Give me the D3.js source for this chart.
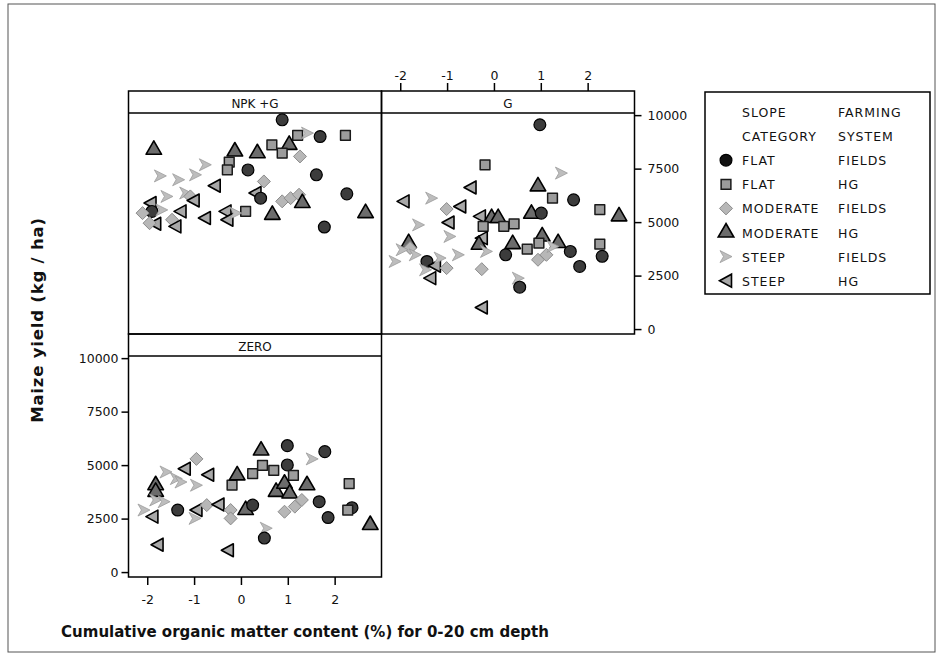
<!DOCTYPE html>
<html>
<head>
<meta charset="utf-8">
<script src="https://cdn.jsdelivr.net/npm/d3@7"></script>
<style>
  body { margin: 0; background: #fff; }
  text { font-family: "DejaVu Sans", Verdana, sans-serif; fill: #111; }
</style>
</head>
<body>
<svg id="chart" width="943" height="659"></svg>
<script>
// slope category / farming system, in legend order
var categories = [
  ["FLAT", "FIELDS"],
  ["FLAT", "HG"],
  ["MODERATE", "FIELDS"],
  ["MODERATE", "HG"],
  ["STEEP", "FIELDS"],
  ["STEEP", "HG"]
];
var panelNames = ["NPK +G", "G", "ZERO"];
var xTicks = [-2, -1, 0, 1, 2];
var yTicks = [0, 2500, 5000, 7500, 10000];

// [organic matter, yield, category index]
var npkPoints = [
  [0.88, 9780, 0], [1.21, 9050, 1], [1.42, 9160, 4], [1.69, 9000, 0], [2.23, 9050, 1],
  [0.66, 8610, 1], [-1.86, 8380, 3], [-0.13, 8300, 3], [0.35, 8220, 3], [1.03, 8610, 3],
  [0.88, 8220, 1], [1.26, 8070, 2], [-0.25, 7800, 1], [-0.29, 7440, 1], [0.15, 7440, 0],
  [1.61, 7210, 0], [0.49, 6900, 2], [2.26, 6320, 0], [0.31, 6360, 5], [0.42, 6120, 0],
  [0.88, 5970, 2], [1.06, 6120, 2], [1.24, 6280, 2], [1.31, 5890, 3], [0.10, 5500, 1],
  [0.67, 5340, 3], [2.66, 5420, 3], [1.78, 4770, 0], [-1.72, 7160, 4], [-1.33, 6980, 4],
  [-0.97, 7210, 4], [-0.76, 7680, 4], [-0.56, 6700, 5], [-1.18, 6360, 4], [-1.08, 6200, 2],
  [-1.01, 6010, 5], [-1.58, 6200, 4], [-1.93, 5890, 5], [-1.90, 5500, 0], [-2.10, 5420, 2],
  [-1.69, 5570, 4], [-1.29, 5500, 5], [-1.83, 4920, 5], [-1.95, 4950, 2], [-1.47, 5110, 2],
  [-1.40, 4800, 5], [-0.77, 5190, 5], [-0.33, 5500, 5], [-0.29, 5110, 5], [-0.11, 5420, 4]
];

var gPoints = [
  [0.98, 9550, 0], [-0.19, 7680, 1], [1.44, 7290, 4], [-0.50, 6620, 5], [0.94, 6670, 3],
  [1.25, 6120, 1], [1.70, 6040, 0], [-1.93, 5970, 5], [-1.33, 6120, 4], [-0.72, 5730, 5],
  [-1.01, 5610, 2], [2.26, 5580, 1], [2.67, 5270, 3], [0.80, 5390, 3], [1.01, 5420, 0],
  [-0.30, 5270, 5], [-0.05, 5190, 3], [0.09, 5190, 3], [-0.23, 4800, 1], [0.21, 4800, 1],
  [0.43, 4920, 1], [-1.61, 4870, 4], [-0.97, 4980, 5], [-0.94, 4330, 4], [-1.82, 4020, 3],
  [-1.79, 3790, 2], [-1.96, 3710, 4], [-0.26, 4250, 5], [-0.32, 3940, 3], [-0.16, 3630, 4],
  [0.40, 3970, 3], [0.25, 3470, 0], [0.71, 3740, 1], [1.03, 4330, 3], [0.96, 4020, 1],
  [1.37, 4020, 3], [0.94, 3240, 2], [1.12, 3470, 2], [1.26, 3860, 4], [1.63, 3630, 0],
  [1.83, 2930, 0], [2.26, 3970, 1], [2.31, 3400, 0], [-2.11, 3160, 4], [-1.68, 3470, 4],
  [-1.43, 3160, 0], [-1.26, 2960, 5], [-1.15, 3320, 4], [-1.46, 2770, 4], [-1.01, 2850, 2],
  [-0.76, 3470, 4], [-1.36, 2380, 5], [-0.26, 2800, 2], [0.52, 2380, 4], [0.55, 1960, 0],
  [-0.26, 1010, 5]
];

var zeroPoints = [
  [-1.82, 4060, 3], [-1.82, 3750, 3], [-2.07, 2900, 4], [-1.89, 2590, 5], [-1.78, 1280, 5],
  [-1.60, 4680, 4], [-1.38, 4370, 4], [-1.28, 4210, 4], [-1.82, 3370, 4], [-1.64, 3290, 4],
  [-1.20, 4830, 5], [-0.95, 5290, 2], [-0.95, 4060, 4], [-0.70, 4550, 5], [-1.35, 2900, 0],
  [-0.95, 2900, 5], [-0.98, 2510, 4], [-0.73, 3130, 2], [-0.48, 3160, 5], [-0.22, 2900, 2],
  [-0.22, 2510, 2], [-0.19, 4060, 1], [-0.08, 4520, 3], [0.10, 2900, 3], [0.25, 3130, 0],
  [0.25, 4600, 1], [0.43, 5680, 3], [0.46, 4990, 1], [0.54, 2050, 4], [0.50, 1590, 0],
  [-0.28, 1020, 5], [0.70, 4750, 1], [0.75, 3750, 3], [0.99, 5910, 0], [0.99, 5010, 0],
  [1.12, 4520, 1], [0.93, 4130, 3], [1.04, 3670, 3], [1.41, 4060, 3], [1.52, 5290, 4],
  [1.79, 5630, 0], [0.93, 2820, 2], [1.15, 3060, 2], [1.30, 3370, 2], [1.67, 3290, 0],
  [1.86, 2550, 0], [2.31, 4130, 1], [2.37, 3010, 0], [2.28, 2900, 1], [2.76, 2200, 3]
];

var svg = d3.select("#chart");

// page frame
svg.append("rect").attr("x", 8).attr("y", 4).attr("width", 927).attr("height", 648)
  .attr("fill", "none").attr("stroke", "#555").attr("stroke-width", 1);

var colLeft = 128.5, colW = 253, rowTop = 91, rowH = 243, stripH = 22;

var x = d3.scaleLinear().domain([-2.4, 3.0]).range([0, colW]);
var y = d3.scaleLinear().domain([-230, 10100]).range([rowH - stripH, 0]);

// marker shapes
var shapes = [
  function() { return d3.symbol(d3.symbolCircle, 110)(); },
  function() { return d3.symbol(d3.symbolSquare, 95)(); },
  function() { return "M0,-6.5L6.5,0L0,6.5L-6.5,0Z"; },
  function() { return d3.symbol(d3.symbolTriangle, 105)(); },
  function() { return "M-6,-6L6,0L-6,6L-2.5,0Z"; },
  function() { return "M-6.5,0L5.5,-6.5L5.5,6.5Z"; }
];
var fills = ["#3c3c3c", "#9c9c9c", "#b7b7b7", "#6c6c6c", "#bdbdbd", "#a8a8a8"];
var strokes = ["#000", "#1a1a1a", "#8c8c8c", "#000", "#9c9c9c", "#000"];
var widths = [1.2, 1.5, 1, 1.6, 0.8, 1.6];

function drawMarks(g, data) {
  g.selectAll("path.pt").data(data).enter().append("path")
    .attr("class", "pt")
    .attr("transform", function(d) { return "translate(" + x(d[0]) + "," + y(d[1]) + ")"; })
    .attr("d", function(d) { return shapes[d[2]](); })
    .attr("fill", function(d) { return fills[d[2]]; })
    .attr("stroke", function(d) { return strokes[d[2]]; })
    .attr("stroke-width", function(d) { return widths[d[2]]; })
    .attr("stroke-linejoin", "round");
}

function panel(col, row, name, data) {
  var g = svg.append("g")
    .attr("transform", "translate(" + (colLeft + col * colW) + "," + (rowTop + row * rowH) + ")");
  g.append("rect").attr("width", colW).attr("height", rowH)
    .attr("fill", "none").attr("stroke", "#000").attr("stroke-width", 1.5);
  g.append("line").attr("x1", 0).attr("x2", colW).attr("y1", stripH).attr("y2", stripH)
    .attr("stroke", "#000").attr("stroke-width", 1.5);
  g.append("text").attr("x", colW / 2).attr("y", stripH - 5)
    .attr("text-anchor", "middle").attr("font-size", 12).text(name);
  var plot = g.append("g").attr("transform", "translate(0," + stripH + ")");
  drawMarks(plot, data);
  return g;
}

var p1 = panel(0, 0, panelNames[0], npkPoints);
var p2 = panel(1, 0, panelNames[1], gPoints);
var p3 = panel(0, 1, panelNames[2], zeroPoints);

function styleAxis(a) {
  a.selectAll(".domain").remove();
  a.selectAll("line").attr("stroke", "#000").attr("stroke-width", 1.5);
  a.selectAll("text").attr("font-size", 12.5).attr("fill", "#111");
}
var plain = function(d) { return String(d); };

// top axis on G panel
p2.append("g").call(d3.axisTop(x).tickValues(xTicks).tickSize(8).tickPadding(3)
  .tickFormat(plain)).call(styleAxis);
// right axis on G panel
p2.append("g").attr("transform", "translate(" + colW + "," + stripH + ")")
  .call(d3.axisRight(y).tickValues(yTicks).tickSize(7).tickPadding(6).tickFormat(plain))
  .call(styleAxis);
// left axis on ZERO panel
p3.append("g").attr("transform", "translate(0," + stripH + ")")
  .call(d3.axisLeft(y).tickValues(yTicks).tickSize(7).tickPadding(3).tickFormat(plain))
  .call(styleAxis);
// bottom axis on ZERO panel
p3.append("g").attr("transform", "translate(0," + rowH + ")")
  .call(d3.axisBottom(x).tickValues(xTicks).tickSize(8).tickPadding(10)
    .tickFormat(plain)).call(styleAxis);

// axis titles
svg.append("text").attr("x", 305).attr("y", 637).attr("text-anchor", "middle")
  .attr("font-size", 15).attr("font-weight", "bold")
  .text("Cumulative organic matter content (%) for 0-20 cm depth");
svg.append("text").attr("transform", "translate(43,320) rotate(-90)")
  .attr("text-anchor", "middle").attr("font-size", 16.5).attr("font-weight", "bold")
  .attr("letter-spacing", 0.8)
  .text("Maize yield (kg / ha)");

// legend
var lg = svg.append("g").attr("transform", "translate(705,92)");
lg.append("rect").attr("width", 225).attr("height", 202)
  .attr("fill", "none").attr("stroke", "#000").attr("stroke-width", 1.5);
var rowY = function(i) { return 25 + i * 24.1; };
var head = [["SLOPE", "FARMING"], ["CATEGORY", "SYSTEM"]];
head.concat(categories).forEach(function(c, i) {
  lg.append("text").attr("x", 37).attr("y", rowY(i)).attr("font-size", 12.5)
    .attr("letter-spacing", 1).text(c[0]);
  lg.append("text").attr("x", 133).attr("y", rowY(i)).attr("font-size", 12.5)
    .attr("letter-spacing", 1).text(c[1]);
});
categories.forEach(function(c, i) {
  lg.append("path")
    .attr("transform", "translate(21," + (rowY(i + 2) - 5) + ")")
    .attr("d", shapes[i]())
    .attr("fill", i === 0 ? "#111" : fills[i])
    .attr("stroke", strokes[i]).attr("stroke-width", widths[i]);
});
</script>
</body>
</html>
